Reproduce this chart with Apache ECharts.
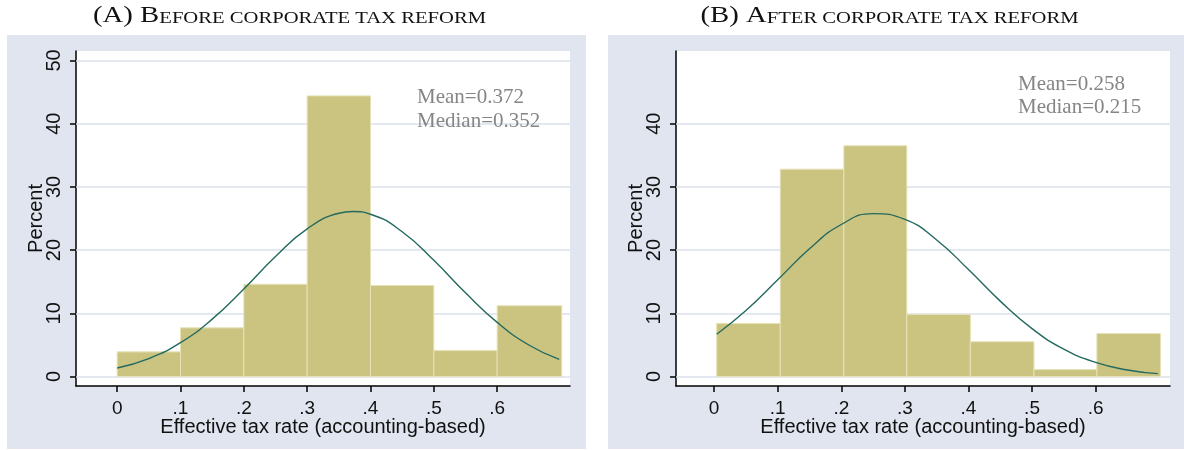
<!DOCTYPE html>
<html><head><meta charset="utf-8">
<script src="https://cdn.jsdelivr.net/npm/echarts@6/dist/echarts.min.js"></script>
<style>html,body{margin:0;padding:0;background:#fff;}#c{width:1184px;height:450px;}</style>
</head><body><div id="c"></div>
<script>
// ---- data ----
const binStartA = [0, 0.1, 0.2, 0.3, 0.4, 0.5, 0.6];
const binEndA   = [0.1, 0.2, 0.3, 0.4, 0.5, 0.6, 0.702];
const percentA  = [3.9, 7.7, 14.6, 44.4, 14.4, 4.1, 11.2];

const binStartB = [0.004, 0.104, 0.204, 0.303, 0.403, 0.503, 0.602];
const binEndB   = [0.104, 0.204, 0.303, 0.403, 0.503, 0.602, 0.702];
const percentB  = [8.4, 32.8, 36.5, 9.8, 5.5, 1.1, 6.8];

const curveXA = [0, 0.05, 0.1, 0.15, 0.2, 0.25, 0.3, 0.35, 0.372, 0.4, 0.45, 0.5, 0.55, 0.6, 0.65, 0.698];
const curveYA = [1.35, 2.84, 5.35, 9.08, 13.85, 18.98, 23.36, 25.83, 26.1, 25.67, 22.91, 18.38, 13.24, 8.57, 4.99, 2.7];

const curveXB = [0.004, 0.05, 0.1, 0.15, 0.2, 0.25, 0.3, 0.35, 0.4, 0.45, 0.5, 0.55, 0.6, 0.65, 0.698];
const curveYB = [6.69, 10.44, 15.3, 20.21, 24.05, 25.77, 24.87, 21.61, 16.92, 11.93, 7.58, 4.33, 2.23, 1.04, 0.45];

const xTickValues = [0, 0.1, 0.2, 0.3, 0.4, 0.5, 0.6];
const xTickLabels = ['0', '.1', '.2', '.3', '.4', '.5', '.6'];
const yTicksA = [0, 10, 20, 30, 40, 50];
const yTicksB = [0, 10, 20, 30, 40];

const titleA = ['(A) B', 'EFORE CORPORATE TAX REFORM'];
const titleB = ['(B) A', 'FTER CORPORATE TAX REFORM'];
const statsA = ['Mean=0.372', 'Median=0.352'];
const statsB = ['Mean=0.258', 'Median=0.215'];
const xName = 'Effective tax rate (accounting-based)';
const yName = 'Percent';

// ---- styling ----
const SANS = 'Liberation Sans';
const SERIF = 'Liberation Serif';
const BAR = '#cac480';
const BAR_EDGE = '#e6e2b6';
const CURVE = '#23695f';
const GRIDC = '#dbe2ed';
const PANEL = '#e0e5ef';

function zip(a, b, c) { return a.map((v, i) => c ? [v, b[i], c[i]] : [v, b[i]]); }

function xAxis(gi, min, max) {
  return {
    type: 'value', gridIndex: gi, min: min, max: max,
    name: xName, nameLocation: 'middle', nameGap: 31, nameMoveOverlap: false,
    nameTextStyle: { fontFamily: SANS, fontSize: 20, color: '#111' },
    axisLine: { show: true, onZero: false, lineStyle: { color: '#000', width: 1.5 } },
    axisTick: { show: true, customValues: xTickValues, length: 6, lineStyle: { color: '#000', width: 1.5 } },
    axisLabel: {
      customValues: xTickValues, margin: 13, fontFamily: SANS, fontSize: 19, color: '#111',
      formatter: function (v) {
        for (let i = 0; i < xTickValues.length; i++) if (Math.abs(xTickValues[i] - v) < 1e-6) return xTickLabels[i];
        return '';
      }
    },
    splitLine: { show: false }
  };
}
function yAxis(gi, ticks) {
  return {
    type: 'value', gridIndex: gi, min: -1.5, max: 51.5,
    name: yName, nameLocation: 'middle', nameGap: 30, nameRotate: 90, nameMoveOverlap: false,
    nameTextStyle: { fontFamily: SANS, fontSize: 20, color: '#111' },
    axisLine: { show: true, onZero: false, lineStyle: { color: '#000', width: 1.5 } },
    axisTick: { show: true, customValues: ticks, length: 6, lineStyle: { color: '#000', width: 1.5 } },
    axisLabel: { customValues: ticks, rotate: 90, margin: 12, fontFamily: SANS, fontSize: 20, color: '#111' },
    splitLine: { show: false }
  };
}
function gridSeries(gi, ticks) {
  return {
    type: 'line', xAxisIndex: gi, yAxisIndex: gi, data: [], z: 1, silent: true,
    markLine: {
      z: 1, silent: true, symbol: ['none', 'none'], label: { show: false }, animation: false,
      lineStyle: { color: GRIDC, width: 1.5, type: 'solid' },
      emphasis: { disabled: true },
      data: ticks.map(v => ({ yAxis: v }))
    }
  };
}
function barSeries(gi, s, e, h) {
  return {
    type: 'custom', xAxisIndex: gi, yAxisIndex: gi, z: 3, silent: true,
    data: zip(s, e, h),
    encode: { x: [0, 1], y: 2 },
    renderItem: function (params, api) {
      const p0 = api.coord([api.value(0), 0]);
      const p1 = api.coord([api.value(1), api.value(2)]);
      return {
        type: 'rect',
        shape: { x: p0[0], y: p1[1], width: p1[0] - p0[0], height: p0[1] - p1[1] },
        style: { fill: BAR, stroke: BAR_EDGE, lineWidth: 1 }
      };
    }
  };
}
function curveSeries(gi, xs, ys) {
  return {
    type: 'line', xAxisIndex: gi, yAxisIndex: gi, z: 4, silent: true,
    data: zip(xs, ys), smooth: 0.5, showSymbol: false, symbol: 'none',
    lineStyle: { color: CURVE, width: 1.4 }
  };
}
function titleText(cx, parts) {
  return {
    type: 'text', x: cx, y: 16, scaleX: 1.25, z: 10,
    style: {
      text: '{a|' + parts[0] + '}{b|' + parts[1] + '}',
      textAlign: 'center', textVerticalAlign: 'middle',
      rich: {
        a: { fontFamily: SERIF, fontSize: 23, fill: '#111', color: '#111', verticalAlign: 'bottom' },
        b: { fontFamily: SERIF, fontSize: 16.5, fill: '#111', color: '#111', verticalAlign: 'bottom' }
      }
    }
  };
}

const chart = echarts.init(document.getElementById('c'), null, { renderer: 'canvas' });
chart.setOption({
  animation: false,
  backgroundColor: '#fff',
  graphic: [
    { type: 'rect', z: -10, shape: { x: 7, y: 35, width: 579, height: 414 }, style: { fill: PANEL } },
    { type: 'rect', z: -10, shape: { x: 608, y: 35, width: 590, height: 414 }, style: { fill: PANEL } },
    titleText(289.5, titleA),
    titleText(889.5, titleB)
  ],
  title: [
    { text: statsA.join('\n'), left: 417, top: 85, padding: 0,
      textStyle: { fontFamily: SERIF, fontSize: 21, fontWeight: 'normal', color: '#858585', lineHeight: 24 } },
    { text: statsB.join('\n'), left: 1018, top: 73, padding: 0,
      textStyle: { fontFamily: SERIF, fontSize: 21, fontWeight: 'normal', color: '#858585', lineHeight: 23 } }
  ],
  grid: [
    { left: 76, top: 51, width: 494, height: 335, show: true, backgroundColor: '#fff', borderWidth: 0 },
    { left: 676, top: 51, width: 494, height: 335, show: true, backgroundColor: '#fff', borderWidth: 0 }
  ],
  xAxis: [xAxis(0, -0.065, 0.715), xAxis(1, -0.060, 0.717)],
  yAxis: [yAxis(0, yTicksA), yAxis(1, yTicksB)],
  series: [
    gridSeries(0, yTicksA), gridSeries(1, yTicksB),
    barSeries(0, binStartA, binEndA, percentA), barSeries(1, binStartB, binEndB, percentB),
    curveSeries(0, curveXA, curveYA), curveSeries(1, curveXB, curveYB)
  ]
});
</script></body></html>
